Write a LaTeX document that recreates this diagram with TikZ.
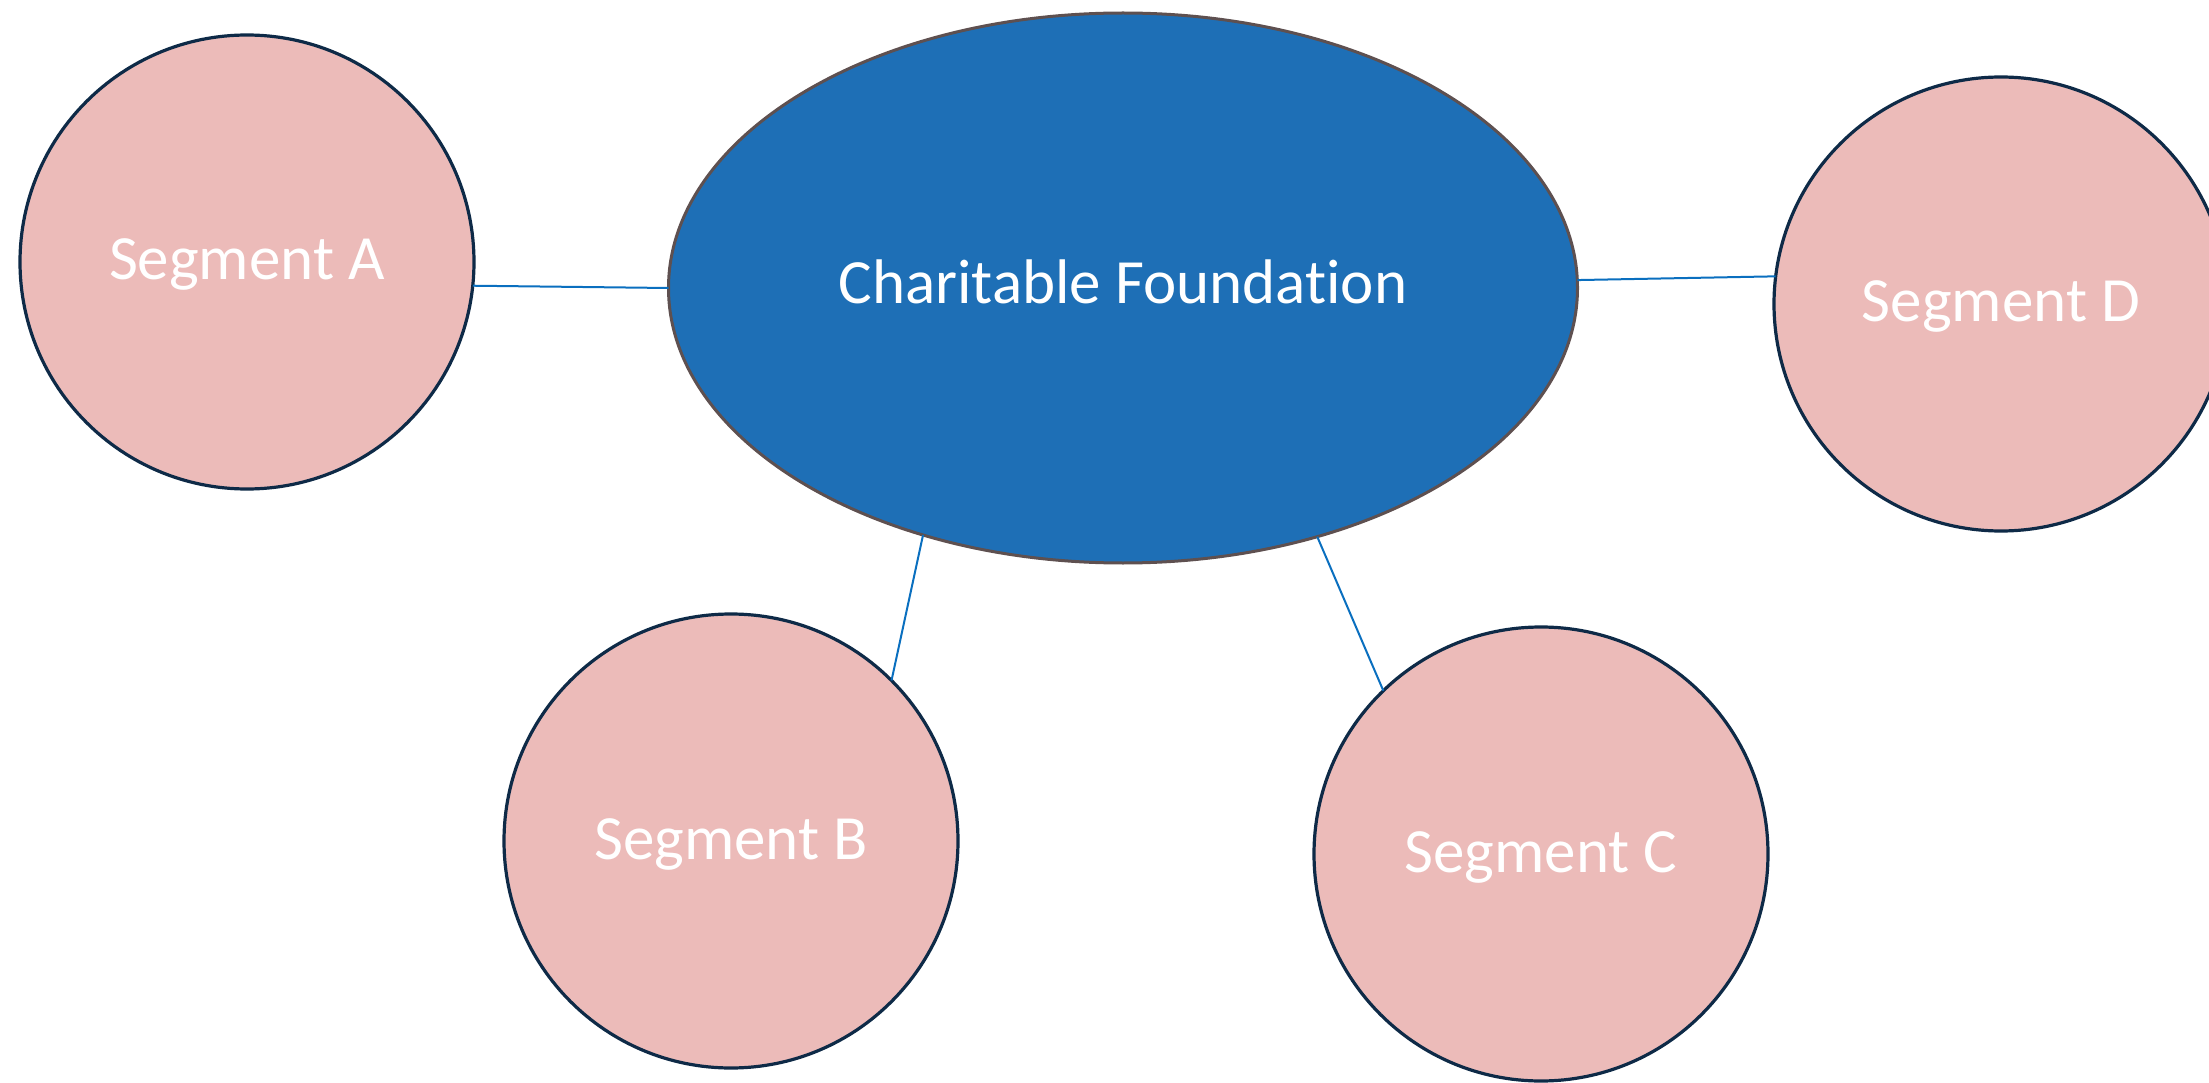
\documentclass[tikz,border=0pt]{standalone}
\usepackage{fontspec}
\setmainfont{Carlito}[Ligatures=CommonOff]
\usetikzlibrary{shapes.geometric}
\definecolor{segfill}{HTML}{ECBBB9}
\definecolor{segline}{HTML}{0E2A47}
\definecolor{hubfill}{HTML}{1E6FB6}
\definecolor{hubline}{HTML}{5E5050}
\definecolor{linkcol}{HTML}{0A6FBF}
\tikzset{
  segment/.style={circle, fill=segfill, draw=segline, line width=3.2pt, minimum size=454pt, inner sep=0pt, outer sep=0pt, text=white, font=\fontsize{63}{70}\selectfont, text height=49pt, text depth=13pt},
  hub/.style={ellipse, fill=hubfill, draw=hubline, line width=3pt, minimum width=909pt, minimum height=550pt, inner sep=0pt, outer sep=0pt, text=white, font=\fontsize{63}{70}\selectfont, text height=44pt, text depth=12pt},
  link/.style={draw=linkcol, line width=2pt}
}
\begin{document}
\begin{tikzpicture}[x=1pt,y=-1pt]
\useasboundingbox (0,0) rectangle (2209,1083);
\node[hub] (F) at (1123,288) {Charitable Foundation};
\node[segment] (A) at (247,262) {Segment A};
\node[segment] (D) at (2001,304) {Segment D};
\node[segment] (B) at (731,841) {Segment B};
\node[segment] (C) at (1541,854) {Segment C};
\draw[link] (A.-6) -- (F.180);
\draw[link] (F.1.7) -- (D.173.5);
\draw[link] (F.231) -- (B.45.5);
\draw[link] (F.308.6) -- (C.134.5);
\end{tikzpicture}
\end{document}
